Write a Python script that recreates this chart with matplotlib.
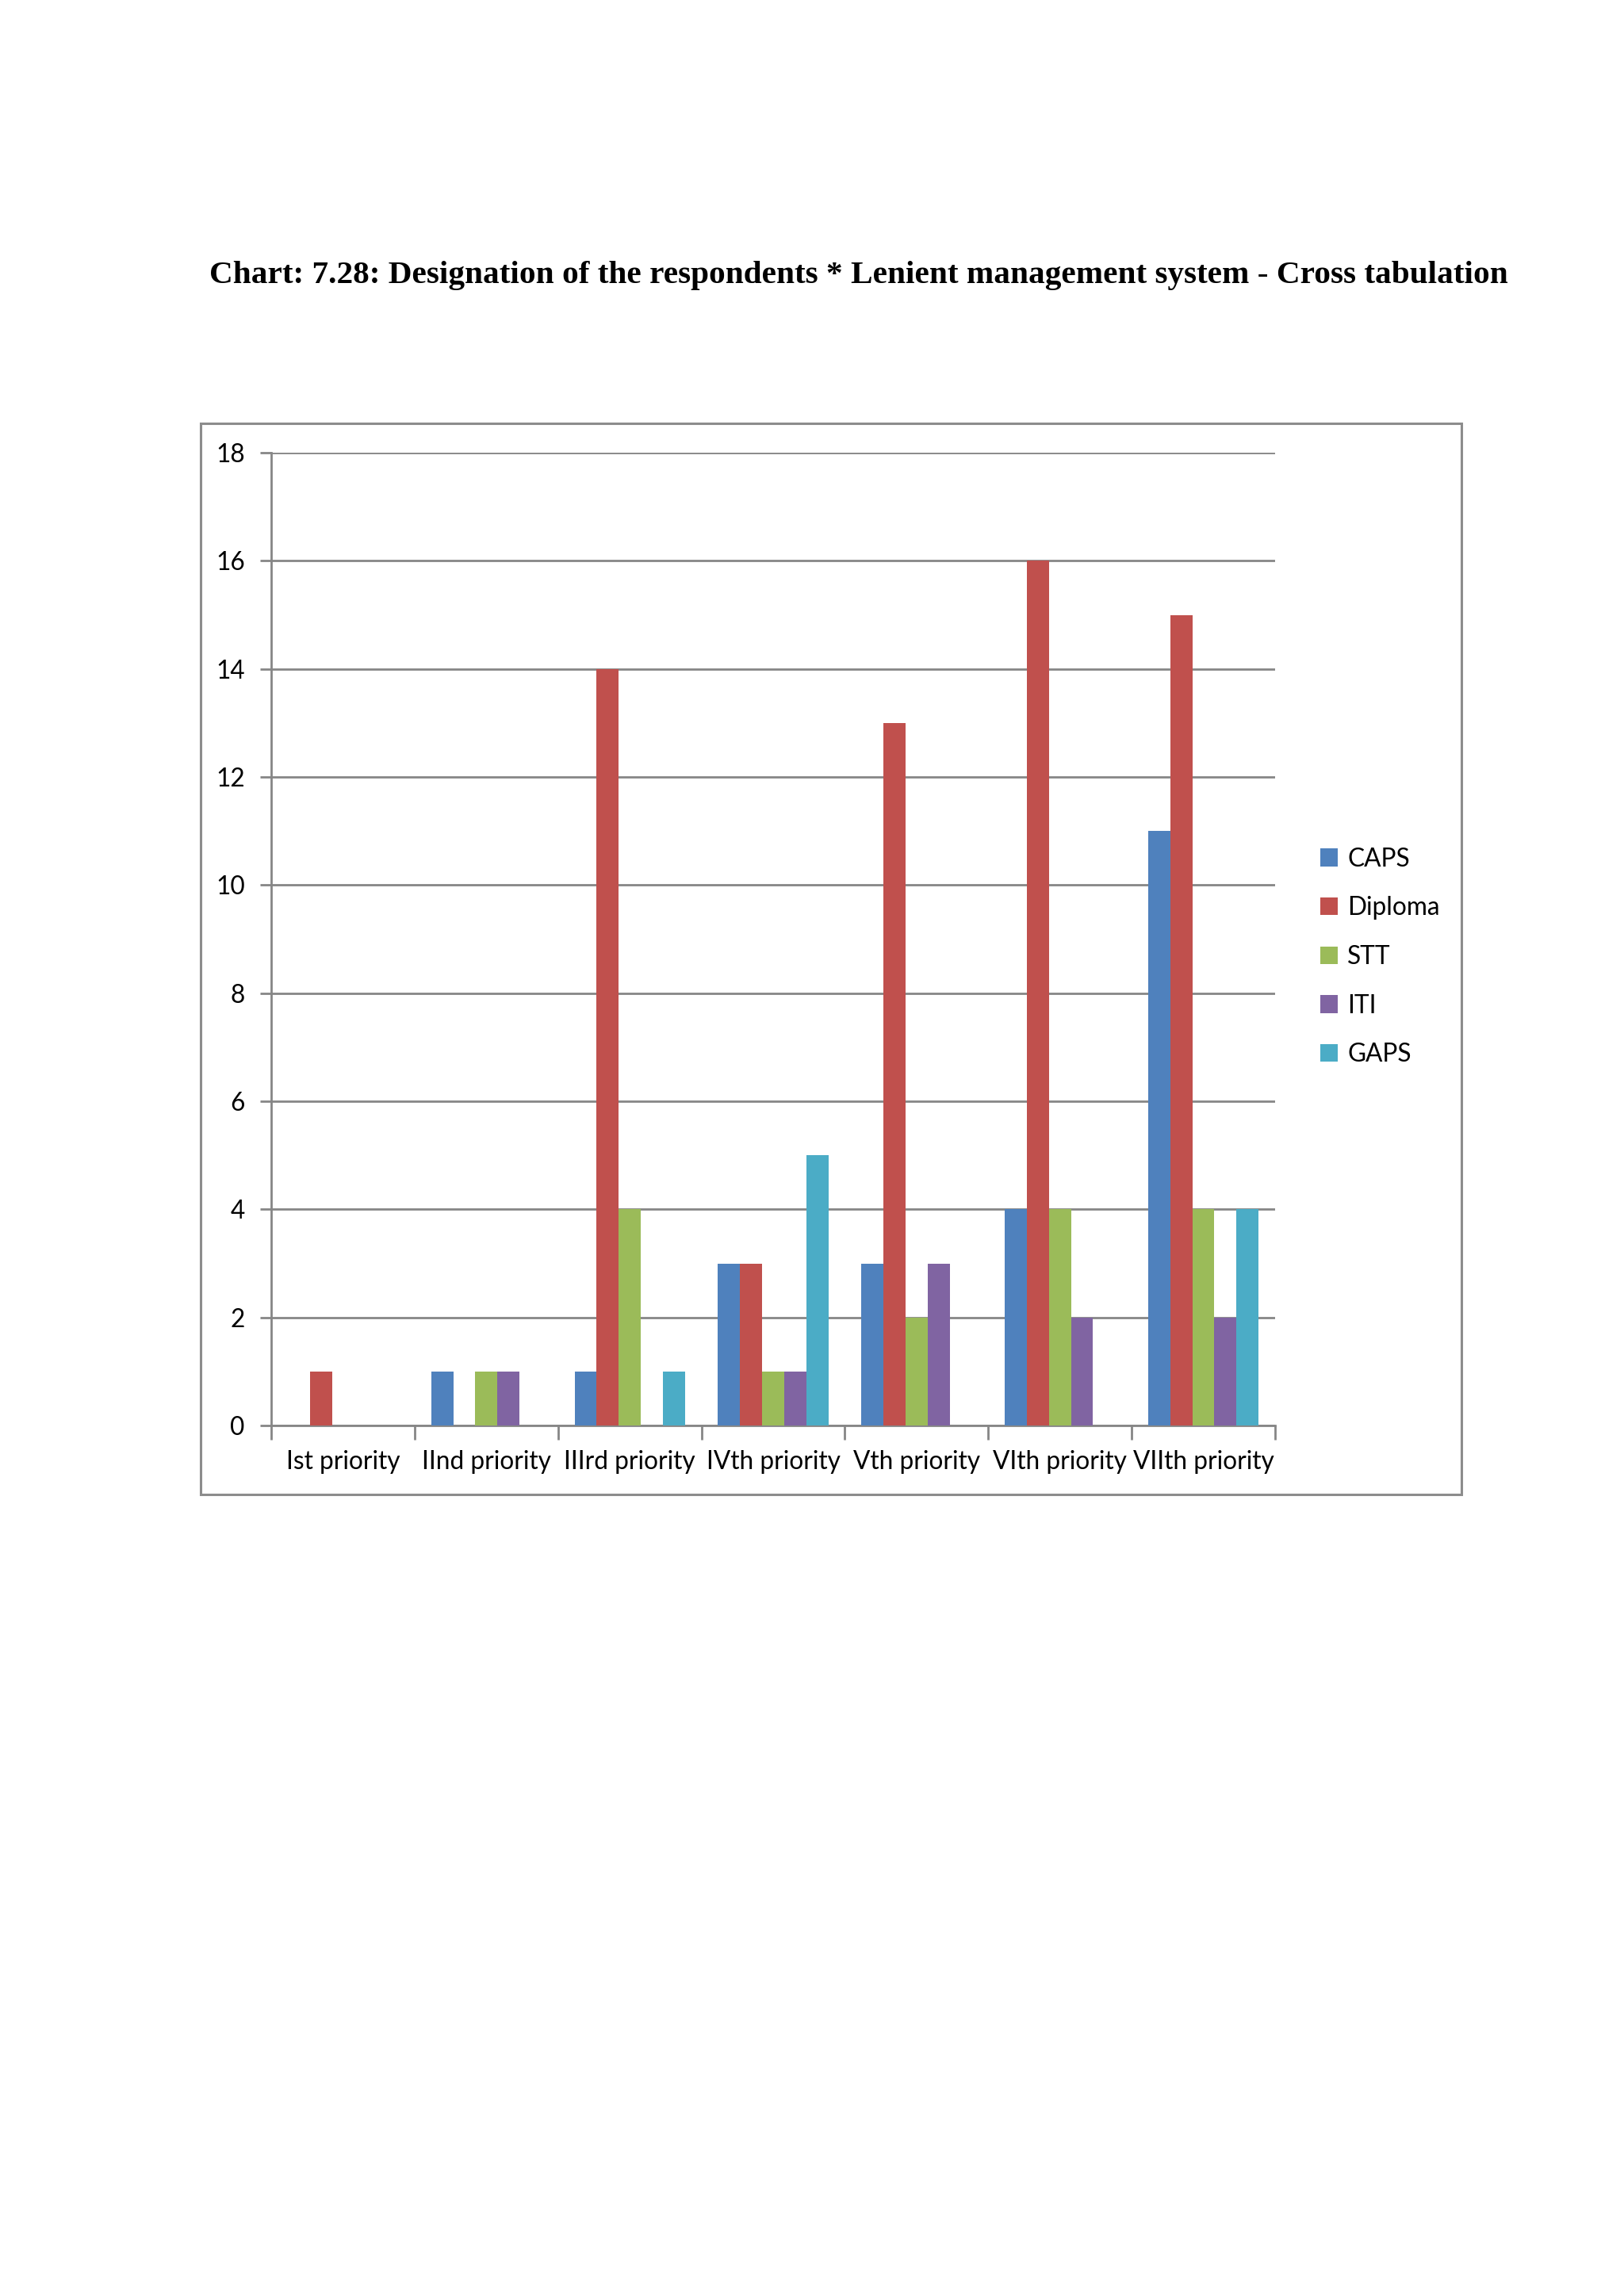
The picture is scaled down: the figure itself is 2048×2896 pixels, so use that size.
import numpy as np
import matplotlib
matplotlib.use('Agg')
import matplotlib.pyplot as plt
from matplotlib.patches import Rectangle

categories = ['Ist priority', 'IInd priority', 'IIIrd priority', 'IVth priority',
              'Vth priority', 'VIth priority', 'VIIth priority']
series_names = ['CAPS', 'Diploma', 'STT', 'ITI', 'GAPS']
caps = [0, 1, 1, 3, 3, 4, 11]
diploma = [1, 0, 14, 3, 13, 16, 15]
stt = [0, 1, 4, 1, 2, 4, 4]
iti = [0, 1, 0, 1, 3, 2, 2]
gaps = [0, 0, 1, 5, 0, 0, 4]
colors = ['#4F81BD', '#C0504D', '#9BBB59', '#8064A2', '#4BACC6']

W, H = 2048, 2896
fig = plt.figure(figsize=(W / 100, H / 100), dpi=100)
fig.patch.set_facecolor('white')

# outer chart frame
fig.patches.append(Rectangle((253 / W, 1 - 1885 / H), (1843 - 253) / W, (1885 - 534) / H,
                             transform=fig.transFigure, fill=False,
                             edgecolor='#8C8C8C', linewidth=2.2))

fig.text(1083 / W, 1 - 348 / H,
         'Chart: 7.28: Designation of the respondents * Lenient management system - Cross tabulation',
         ha='center', va='center', fontsize=29.7, fontweight='bold', family='Liberation Serif')

ax = fig.add_axes([342 / W, 1 - 1798 / H, (1608 - 342) / W, (1798 - 571) / H])

x = np.arange(len(categories))
w = 1 / 6.5
all_series = [caps, diploma, stt, iti, gaps]
for i, (name, vals) in enumerate(zip(series_names, all_series)):
    ax.bar(x + (i - 2) * w, vals, width=w, color=colors[i], label=name, zorder=3)

ax.set_xlim(-0.5, len(categories) - 0.5)
ax.set_ylim(0, 18)
ax.set_yticks(range(0, 19, 2))
ax.yaxis.grid(True, color='#868686', linewidth=2, zorder=0)

ax.set_xticks(np.arange(-0.5, len(categories), 1))
ax.set_xticklabels([])
ax.set_xticks(x, minor=True)
ax.set_xticklabels(categories, minor=True)
ax.tick_params(axis='x', which='major', length=13, width=2, color='#868686', direction='out')
ax.tick_params(axis='x', which='minor', length=0, pad=22, labelsize=22.8)
ax.tick_params(axis='y', length=10, width=2, color='#868686', pad=14, labelsize=22.8)

for lbl in ax.get_xticklabels(minor=True) + ax.get_yticklabels():
    lbl.set_family('Lato')

for side in ['top', 'right']:
    ax.spines[side].set_visible(False)
for side in ['left', 'bottom']:
    ax.spines[side].set_color('#868686')
    ax.spines[side].set_linewidth(2)

leg = ax.legend(loc='center left', bbox_to_anchor=(1636 / W, 1 - 1207 / H),
                bbox_transform=fig.transFigure, frameon=False,
                prop={'family': 'Lato', 'size': 22.8},
                handlelength=0.7, handleheight=0.7, handletextpad=0.4,
                labelspacing=1.0)

fig.savefig('out.png', dpi=100)
